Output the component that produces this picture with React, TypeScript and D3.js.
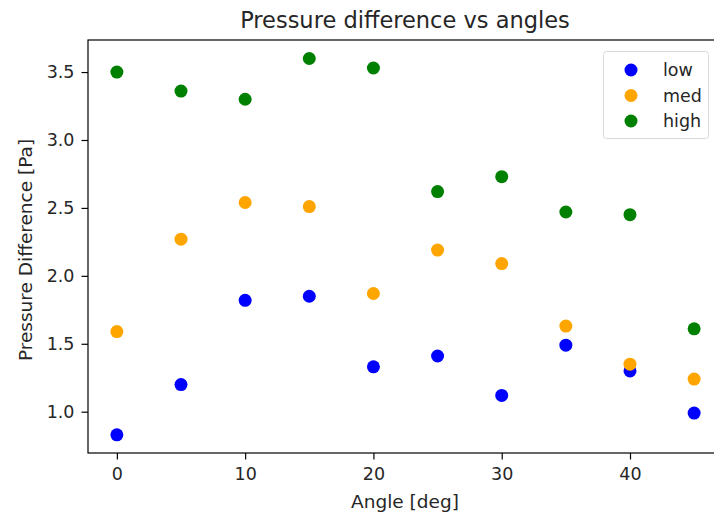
import * as d3 from 'd3';
import React, { useEffect, useRef } from 'react';

const angles = [0, 5, 10, 15, 20, 25, 30, 35, 40, 45];
const lowValues = [0.83, 1.2, 1.82, 1.85, 1.33, 1.41, 1.12, 1.49, 1.3, 0.99];
const medValues = [1.59, 2.27, 2.54, 2.51, 1.87, 2.19, 2.09, 1.63, 1.35, 1.24];
const highValues = [3.5, 3.36, 3.3, 3.6, 3.53, 2.62, 2.73, 2.47, 2.45, 1.61];
const seriesNames = ['low', 'med', 'high'];
const seriesColors = ['blue', 'orange', 'green'];
const xTicks = [0, 10, 20, 30, 40];
const yTicks = [1.0, 1.5, 2.0, 2.5, 3.0, 3.5];

const svgWidth = 714;
const svgHeight = 518;
const font = '"DejaVu Sans", sans-serif';
const textColor = '#262626';

const App = () => {
    const d3Container = useRef(null);

    useEffect(() => {
        if (d3Container.current) {
            drawChart();
        }
    }, []);

    const drawChart = () => {
        d3.select(d3Container.current).selectAll('*').remove();
        const svg = d3.select(d3Container.current)
            .append('svg')
            .attr('width', svgWidth)
            .attr('height', svgHeight)
            .style('position', 'absolute')
            .style('left', '0px')
            .style('top', '0px')
            .style('background', 'white');

        // plot area (right edge falls outside the picture, as in the original)
        const left = 88, right = 723, top = 40, bottom = 453;

        const x = d3.scaleLinear().domain([-2.25, 47.25]).range([left, right]);
        const y = d3.scaleLinear().domain([0.696, 3.736]).range([bottom, top]);

        const series = [lowValues, medValues, highValues];

        // points
        series.forEach((values, i) => {
            svg.append('g')
                .selectAll('circle')
                .data(values)
                .join('circle')
                .attr('cx', (d, j) => x(angles[j]))
                .attr('cy', d => y(d))
                .attr('r', 6.5)
                .attr('fill', seriesColors[i]);
        });

        // frame
        svg.append('rect')
            .attr('x', left)
            .attr('y', top)
            .attr('width', right - left)
            .attr('height', bottom - top)
            .attr('fill', 'none')
            .attr('stroke', 'black')
            .attr('stroke-width', 1.2);

        // x axis
        const xAxis = svg.append('g')
            .attr('transform', `translate(0,${bottom})`)
            .call(d3.axisBottom(x).tickValues(xTicks).tickSize(6.5).tickPadding(8).tickFormat(d3.format('d')));
        xAxis.select('.domain').remove();
        xAxis.selectAll('line').attr('stroke', 'black').attr('stroke-width', 1.2);
        xAxis.selectAll('text')
            .style('font-family', font)
            .style('font-size', '17.5px')
            .attr('fill', textColor);

        // y axis
        const yAxis = svg.append('g')
            .attr('transform', `translate(${left},0)`)
            .call(d3.axisLeft(y).tickValues(yTicks).tickSize(6.5).tickPadding(7).tickFormat(d3.format('.1f')));
        yAxis.select('.domain').remove();
        yAxis.selectAll('line').attr('stroke', 'black').attr('stroke-width', 1.2);
        yAxis.selectAll('text')
            .style('font-family', font)
            .style('font-size', '17.5px')
            .attr('fill', textColor);

        // labels
        svg.append('text')
            .attr('x', 405)
            .attr('y', 28)
            .attr('text-anchor', 'middle')
            .style('font-family', font)
            .style('font-size', '22.5px')
            .attr('fill', textColor)
            .text('Pressure difference vs angles');

        svg.append('text')
            .attr('x', 405)
            .attr('y', 508)
            .attr('text-anchor', 'middle')
            .style('font-family', font)
            .style('font-size', '18.5px')
            .attr('fill', textColor)
            .text('Angle [deg]');

        svg.append('text')
            .attr('transform', `translate(32,250) rotate(-90)`)
            .attr('text-anchor', 'middle')
            .style('font-family', font)
            .style('font-size', '18.5px')
            .attr('fill', textColor)
            .text('Pressure Difference [Pa]');

        // legend
        const legend = svg.append('g');
        legend.append('rect')
            .attr('x', 603.5)
            .attr('y', 51.5)
            .attr('width', 105)
            .attr('height', 87)
            .attr('rx', 3)
            .attr('fill', 'white')
            .attr('fill-opacity', 0.8)
            .attr('stroke', '#d9d9d9');

        seriesNames.forEach((name, i) => {
            const ly = 70 + i * 25.5;
            legend.append('circle')
                .attr('cx', 631)
                .attr('cy', ly)
                .attr('r', 6.5)
                .attr('fill', seriesColors[i]);
            legend.append('text')
                .attr('x', 663)
                .attr('y', ly + 6)
                .style('font-family', font)
                .style('font-size', '17.5px')
                .attr('fill', textColor)
                .text(name);
        });
    };

    return (
        <div>
            <div ref={d3Container}></div>
        </div>
    );
};

export default App;
